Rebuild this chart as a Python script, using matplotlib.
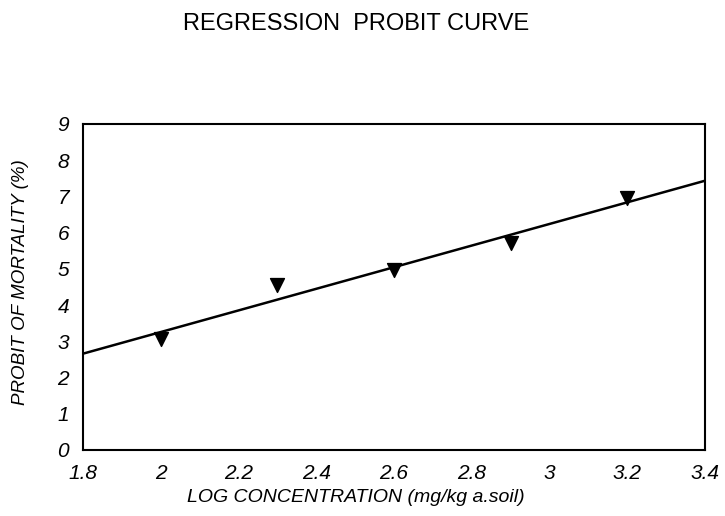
import matplotlib.pyplot as plt
import numpy as np

plt.rcParams['font.family'] = ['Liberation Sans', 'DejaVu Sans']

# log concentration vs observed probit
log_conc = [2.0, 2.3, 2.6, 2.9, 3.2]
probit = [3.05, 4.55, 4.97, 5.7, 6.95]
x_ticks = [1.8, 2, 2.2, 2.4, 2.6, 2.8, 3, 3.2, 3.4]
y_ticks = [0, 1, 2, 3, 4, 5, 6, 7, 8, 9]

# regression line
slope, intercept = np.polyfit(log_conc, probit, 1)
xl = np.array([1.8, 3.4])
yl = slope * xl + intercept

fig = plt.figure(figsize=(7.25, 5.16), dpi=100)
ax = fig.add_axes([0.1145, 0.128, 0.858, 0.632])

ax.plot(xl, yl, color='black', lw=1.8)
ax.scatter(log_conc, probit, marker='v', s=100, color='black', zorder=3)

ax.set_xlim(1.8, 3.4)
ax.set_ylim(0, 9)
ax.set_xticks(x_ticks)
ax.set_xticklabels([f'{t:g}' for t in x_ticks], fontsize=15, style='italic')
ax.set_yticks(y_ticks)
ax.set_yticklabels([str(t) for t in y_ticks], fontsize=15, style='italic')
ax.tick_params(axis='x', length=0, pad=10)
ax.tick_params(axis='y', length=0, pad=10)
for s in ax.spines.values():
    s.set_linewidth(1.5)

ax.set_xlabel('LOG CONCENTRATION (mg/kg a.soil)', fontsize=14, style='italic')
ax.xaxis.set_label_coords(0.439, -0.145)
ax.xaxis.label.set_va('center')
ax.set_ylabel('PROBIT OF MORTALITY (%)', fontsize=13.5, style='italic')
ax.yaxis.set_label_coords(-0.101, 0.515)
ax.yaxis.label.set_va('center')
fig.text(0.491, 0.953, 'REGRESSION  PROBIT CURVE', ha='center', va='center', fontsize=17)

fig.savefig('out.png', dpi=100)
